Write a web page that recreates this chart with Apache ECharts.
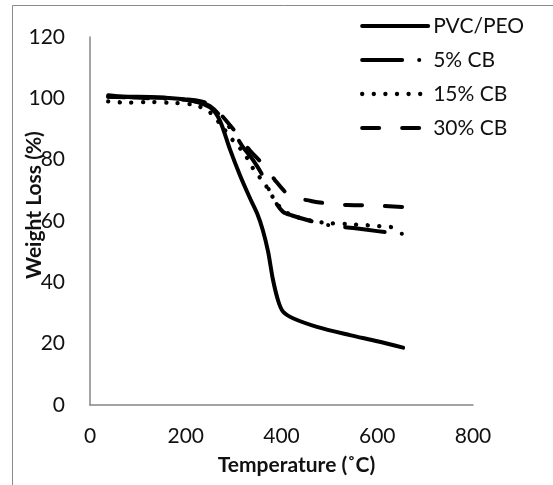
<!DOCTYPE html>
<html>
<head>
<meta charset="utf-8">
<script src="https://cdn.jsdelivr.net/npm/echarts@6/dist/echarts.min.js"></script>
<style>
html,body{margin:0;padding:0;background:#fff;}
#chart{width:553px;height:485px;}
</style>
</head>
<body>
<div id="chart"></div>
<script>
// Series names
const seriesNames = ['PVC/PEO', '5% CB', '15% CB', '30% CB'];

// PVC/PEO
const pvcTemp = [38, 100, 150, 200, 230, 255, 272, 292, 313, 334, 349, 361, 372, 382, 393, 403, 424, 474, 543, 600, 654];
const pvcVal  = [100.5, 100.5, 100.3, 99.6, 98.5, 96.5, 92.5, 83.5, 75, 67.5, 62.5, 57, 50, 41, 34, 30.5, 28.3, 25.5, 22.8, 20.8, 18.7];

// 5% CB
const cb5Temp = [38, 70, 125, 200, 250, 299, 320, 340, 360, 375, 382, 403, 422, 466, 500, 550, 600, 652];
const cb5Val  = [101, 100.5, 100, 99.5, 97.5, 89, 84, 80, 75, 69.8, 67.5, 63, 61.8, 59.8, 58.6, 57.7, 56.7, 55.8];

// 15% CB
const cb15Temp = [38, 80, 125, 173, 219, 250, 280, 300, 320, 334, 345, 359, 372, 385, 400, 420, 450, 487, 537, 581, 631, 652];
const cb15Val  = [99, 98.6, 98.8, 98.5, 97.8, 95.5, 90, 86, 82.5, 79, 76, 73.4, 70.4, 67, 64, 62, 60.5, 59.5, 59, 58.6, 58, 57.5];

// 30% CB
const cb30Temp = [38, 100, 150, 200, 250, 299, 318, 334, 361, 386, 411, 430, 453, 495, 537, 579, 652];
const cb30Val  = [100.5, 100.3, 100.2, 99.7, 98, 90, 86, 83, 78.5, 73.4, 69, 67.5, 66.8, 65.7, 65.2, 65.1, 64.6];

// Axis ticks
const xTicks = [0, 200, 400, 600, 800];
const yTicks = [0, 20, 40, 60, 80, 100, 120];

const FONT = 'Lato, "Open Sans", sans-serif';
const zip = (a, b) => a.map((t, i) => [t, b[i]]);

const styles = [
  {type: 'solid', width: 4},
  {type: [40, 17, 0.1, 17], width: 4},
  {type: [0.1, 11.5], width: 4.3},
  {type: [17, 23], width: 4}
];
const datas = [zip(pvcTemp, pvcVal), zip(cb5Temp, cb5Val), zip(cb15Temp, cb15Val), zip(cb30Temp, cb30Val)];

const chart = echarts.init(document.getElementById('chart'), null, {renderer: 'canvas'});
chart.setOption({
  animation: false,
  backgroundColor: '#fff',
  graphic: [{
    type: 'rect', silent: true, z: -10,
    shape: {x: 12.5, y: 5.5, width: 700, height: 700},
    style: {fill: 'none', stroke: '#8a8a8a', lineWidth: 1}
  }],
  grid: {left: 90, right: 80, top: 37, bottom: 80, containLabel: false, outerBoundsMode: 'none'},
  legend: {
    orient: 'vertical', left: 355, top: 10,
    itemWidth: 66, itemHeight: 14, itemGap: 12,
    itemStyle: {opacity: 0},
    data: seriesNames.map((n, i) => ({
      name: n,
      itemStyle: {opacity: 0},
      lineStyle: {width: styles[i].width, type: styles[i].type, cap: 'round', color: '#000'}
    })),
    textStyle: {fontFamily: FONT, fontSize: 21, lineHeight: 22, color: '#111'}
  },
  xAxis: {
    type: 'value', min: xTicks[0], max: xTicks[xTicks.length - 1], interval: 200,
    name: 'Temperature (˚C)', nameLocation: 'middle', nameGap: 50, nameMoveOverlap: false,
    nameTextStyle: {fontFamily: FONT, fontSize: 21, fontWeight: 'bold', color: '#111', padding: [0, 0, 0, 30]},
    axisLine: {show: true, lineStyle: {color: '#868686', width: 1.5}},
    axisTick: {show: false},
    splitLine: {show: false},
    axisLabel: {fontFamily: FONT, fontSize: 21, color: '#111', margin: 21}
  },
  yAxis: {
    type: 'value', min: yTicks[0], max: yTicks[yTicks.length - 1], interval: 20,
    name: 'Weight Loss (%)', nameLocation: 'middle', nameGap: 45, nameMoveOverlap: false,
    nameTextStyle: {fontFamily: FONT, fontSize: 21, fontWeight: 'bold', color: '#111', padding: [0, 0, 0, 32]},
    axisLine: {show: true, lineStyle: {color: '#868686', width: 1.5}},
    axisTick: {show: false},
    splitLine: {show: false},
    axisLabel: {fontFamily: FONT, fontSize: 21, color: '#111', margin: 25}
  },
  series: seriesNames.map((n, i) => ({
    name: n, type: 'line', data: datas[i], symbol: 'none', smooth: 0.3,
    lineStyle: {color: '#000', width: styles[i].width, type: styles[i].type, cap: 'round', join: 'round'},
    itemStyle: {color: '#000'}
  }))
});
</script>
</body>
</html>
